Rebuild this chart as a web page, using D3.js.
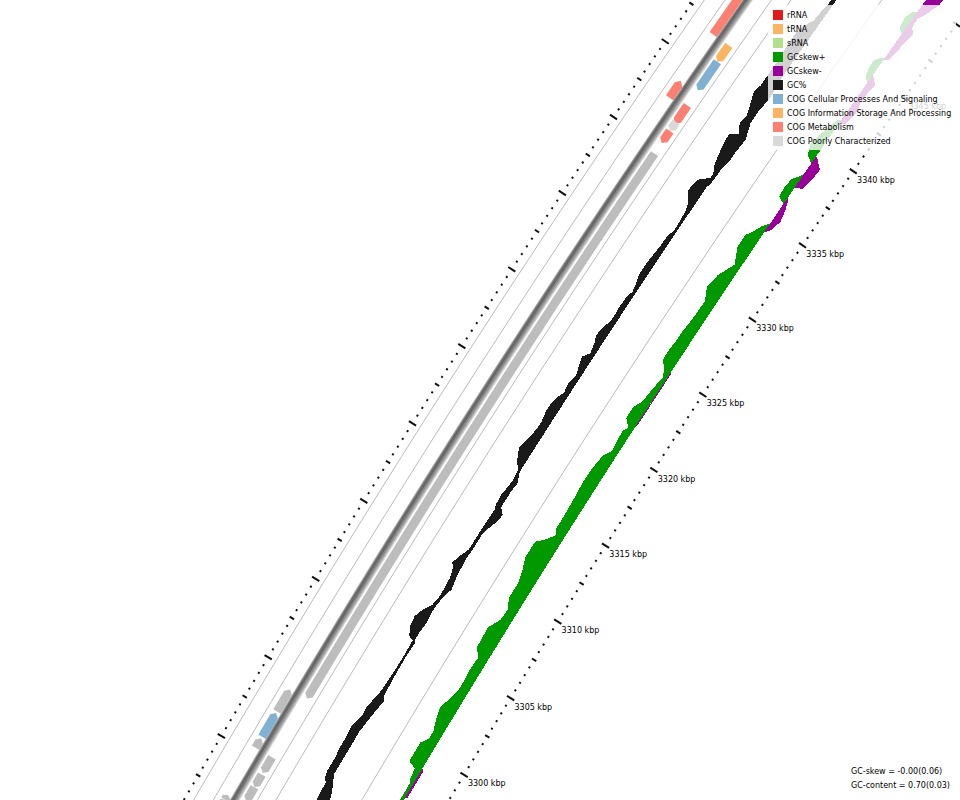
<!DOCTYPE html>
<html>
<head>
<meta charset="utf-8">
<script src="https://cdnjs.cloudflare.com/ajax/libs/d3/7.8.5/d3.min.js"></script>
<style>
html,body{margin:0;padding:0;background:#fff;}
svg{display:block;}
text{font-family:"DejaVu Sans",sans-serif;}
</style>
</head>
<body>
<div id="chart"></div>
<script>
// ---------- data ----------
const labelKbp = [3300,3305,3310,3315,3320,3325,3330,3335,3340,3345];
const legendNames = ["rRNA","tRNA","sRNA","GCskew+","GCskew-","GC%","COG Cellular Processes And Signaling","COG Information Storage And Processing","COG Metabolism","COG Poorly Characterized"];
const legendColors = ["#e31a1c","#fdb462","#b2df8a","#009900","#990099","#1a1a1a","#80b1d3","#fdb462","#fb8072","#d9d9d9"];
const footerLines = ["GC-skew = -0.00(0.06)","GC-content = 0.70(0.03)"];

// GC-skew above the mean (x100)
const plusKbp = [3296.9,3297,3298.1,3298.3,3298.9,3299.1,3300,3300.3,3300.7,3301.2,3301.9,3302.5,3303.2,3303.8,3304.4,3305.1,3306,3306.4,3307.7,3308.4,3309.1,3309.7,3310.7,3311.4,3312.1,3313.1,3313.5,3314,3314.3,3315.1,3316.4,3317.2,3318,3319.1,3319.6,3320.9,3321.2,3321.6,3322.3,3322.9,3323.7,3324.6,3325.1,3325.4,3325.9,3326.7,3327.3,3328.1,3329.4,3330.1,3331,3332,3332.9,3333.7,3334.1,3334.6,3335,3336.3,3336.5,3337,3337.7,3338.1,3338.3,3339,3339.1,3339.3,3339.9,3341,3341.8,3342,3344.5,3344.7,3345.2,3345.7,3346,3346.2,3347.8,3348,3348.6,3349.1,3349.3,3352];
const plusVal = [0,3,3,5,6,14,14,14,9,9,13,15,12,9,9,10,9,15,16,10,9,14,14,17,21,21,14,8,11,11,12,13,13,11,6,8,5,11.5,11.5,7,6,3.4,8,12.6,13,12,12,10.6,10,15.7,13.5,6,13,13,9,5,0,0,7,8,7,2,0,0,2,7,11,7,3,0,0,4.5,6.7,7,3.6,0,0,5,6.5,4,0,0];

// GC-skew below the mean (x100)
const minusKbp = [3297.2,3297.3,3299,3299.1,3321.5,3321.6,3325,3325.1,3334.4,3334.7,3335.4,3336,3336.5,3336.7,3337.4,3337.6,3338.3,3339,3339.4,3339.5,3341.6,3341.9,3342.7,3343.6,3344.6,3344.9,3345,3346,3346.2,3346.5,3347.5,3348.1,3348.4,3348.5,3349,3349.5,3350.3,3350.6,3351,3353];
const minusVal = [0,2,2,0,0,1,1,0,0,4,7,5,2.5,0,0,7,9,10,3,0,0,5,7.5,5,7,3,0,0,4,5,7,9,5,4,4,8,12.6,13,12,10];

// GC content above and below the mean (percentage points)
const gcKbp = [3293,3294.3,3295.1,3295.7,3295.9,3296.3,3297.1,3297.8,3298.4,3299.1,3299.9,3300.5,3301.2,3301.5,3302.5,3303.8,3304.9,3305,3305.5,3306.1,3306.7,3307.1,3307.8,3308.4,3308.9,3309.4,3309.7,3310.2,3310.5,3310.8,3311.8,3312.1,3313,3313.4,3313.7,3314.3,3314.7,3315.3,3315.9,3316.4,3317,3317.7,3318.4,3318.9,3319.5,3320.1,3320.5,3320.9,3321.5,3322.1,3322.6,3323.1,3323.5,3324.1,3324.5,3325.1,3325.6,3326.1,3326.4,3327.3,3327.6,3328.2,3328.6,3329.2,3330.1,3330.6,3331.1,3331.8,3332.4,3333,3333.4,3334,3334.7,3334.9,3335.2,3335.5,3336,3336.6,3337.2,3337.8,3338.1,3338.6,3339,3339.2,3339.8,3340.5,3341,3341.8,3342.8,3343.7,3344.5,3345,3345.6,3345.9,3346.7,3347.2,3348,3352];
const gcAbove = [1,1,2.5,2.5,5.6,7,7,8,8,9,5.3,6,3.4,2.5,1.5,1,1.5,6.4,10.4,11.8,8,3.4,1.5,2,2.5,4.7,8,6,3.4,1.5,1.5,1.5,1,1,2.5,3,2.2,1,2,8,12.6,10,8,8,9.8,9.5,8,5,6.4,4.5,7,9.4,4.5,6.4,9,8,5,5,5.6,5,3,5,7,7,6,5,5,2.5,3,4,6,12.6,11,8.4,2,2,6,8,9.8,10.6,2.8,8,7.5,6.7,10,14,12,12,12,13,13,11,6,6,4,4,4,4];
const gcBelow = [9,9,8.6,5,3.6,0,0,0,0,0,1.7,3,5,2.5,1.5,1,1.5,0,0,1,0,0,1.5,4.5,3,1.7,1.7,1,1,1.5,1.5,2,7.5,8,3,3,3,4,0,0,0,0,0,0,0,0,0,0,0,0,0,0,0,0,0,0,0,0,0,0,0,0,0,0,0,0,0,0,0,0,0,0,0,1,1.7,1.7,2,4,4,4.7,5,2,0,0,0,1.4,1.4,0,0,0,0,0,0,0,0,0,0,0];

// gene features
const geneStart  = [3341.8,3337.6,3297.7,3296.1,3295.4,3292.1,3291.9, 3299.15,3294.4,3293.5,3292.6,3340.7,3338.8,3336.6,3336.1,3335.3];
const geneEnd    = [3347,  3338.7,3299.1,3297.6,3296.0,3292.4,3292.1, 3334.6, 3295.4,3294.3,3293.5,3341.8,3340.7,3337.8,3336.7,3336.1];
const geneStrand = [1,1,1,1,1,1,1, -1,-1,-1,-1,-1,-1,-1,-1,-1];
const geneClass  = ["M","M","none","C","none","none","none","none","none","none","none","I","C","M","P","M"];
const classColor = {M:"#fb8072",C:"#80b1d3",I:"#fdb462",P:"#d9d9d9",none:"#bdbdbd"};

// ---------- layout ----------
const W = 960, H = 800;
const genomeKbp = 3947;
const cx = 10135, cy = 6583, R0 = 11280;
const angle = d3.scaleLinear().domain([0, genomeKbp]).range([0, 2*Math.PI]);
const offset = o => R0 + o;                 // radial distance from the inner tick ring
const TRACK = {inner:1, skew:40, rule1:76, gc:113, rule2:150, rule3:166, rev:175, spine:185.5, fwd:194, rule4:204, rule5:221, ticks:229.5};
const skewR = d3.scaleLinear().domain([0,1]).range([0,1.08]);
const gcR = d3.scaleLinear().domain([0,1]).range([0,1.08]);

const svg = d3.select("#chart").append("svg").attr("width",W).attr("height",H);
const g = svg.append("g").attr("transform",`translate(${cx},${cy})`);

const arcLine = d3.lineRadial().angle(d=>angle(d[0])).radius(d=>d[1]);
const span = d3.range(3285,3362,1);

// rules
[TRACK.rule1,TRACK.rule2,TRACK.rule3,TRACK.rule4,TRACK.rule5].forEach(t=>{
  g.append("path").attr("d",arcLine(span.map(k=>[k,offset(t)])))
   .attr("fill","none").attr("stroke","#a8a8a8").attr("stroke-width",0.8);
});
// spine: shaded ring, darkest towards its outer side
[[8.6,"#d0d0d0",0],[7,"#a8a8a8",0.5],[5,"#888888",1],[2.6,"#686868",1.5]].forEach(([w,c,d])=>{
  g.append("path").attr("d",arcLine(span.map(k=>[k,offset(TRACK.spine+d)])))
   .attr("fill","none").attr("stroke",c).attr("stroke-width",w);
});

// gene arrows
const halfW = 4.4;
function arrowPts(s,e,strand,r){
  const head = Math.min(0.22,(e-s)*0.45);
  const inner = r-halfW, outer = r+halfW;
  const steps = d3.range(s,e,1);
  if(strand>0){
    const a = [s].concat(steps.slice(1)).concat([e-head]);
    return a.map(k=>[k,outer]).concat([[e,r]]).concat(a.slice().reverse().map(k=>[k,inner]));
  }
  const a = [s+head].concat(steps.slice(1)).concat([e]);
  return [[s,r]].concat(a.map(k=>[k,outer])).concat(a.slice().reverse().map(k=>[k,inner]));
}
geneStart.forEach((s,i)=>{
  const r = offset(geneStrand[i]>0?TRACK.fwd:TRACK.rev);
  g.append("path").attr("d",arcLine(arrowPts(s,geneEnd[i],geneStrand[i],r))+"Z")
   .attr("fill",classColor[geneClass[i]]);
});

// GC content
const gcRows = gcKbp.map((k,i)=>({k,a:gcAbove[i],b:gcBelow[i]}));
g.append("path").attr("d",d3.areaRadial().angle(d=>angle(d.k))
    .innerRadius(d=>offset(TRACK.gc)-gcR(d.b)).outerRadius(d=>offset(TRACK.gc)+gcR(d.a))(gcRows))
  .attr("fill","#1a1a1a").attr("shape-rendering","crispEdges");

// GC skew
const plusRows = plusKbp.map((k,i)=>({k,v:plusVal[i]}));
const minusRows = minusKbp.map((k,i)=>({k,v:minusVal[i]}));
g.append("path").attr("d",d3.areaRadial().angle(d=>angle(d.k))
    .innerRadius(offset(TRACK.skew)).outerRadius(d=>offset(TRACK.skew)+skewR(d.v))(plusRows))
  .attr("fill","#009900").attr("shape-rendering","crispEdges");
g.append("path").attr("d",d3.areaRadial().angle(d=>angle(d.k))
    .outerRadius(offset(TRACK.skew)).innerRadius(d=>offset(TRACK.skew)-skewR(d.v))(minusRows))
  .attr("fill","#990099").attr("shape-rendering","crispEdges");

// ticks on both rings
function tickSeg(k,base,len){
  return arcLine([[k,offset(base)-len/2],[k,offset(base)+len/2]]);
}
[TRACK.inner,TRACK.ticks].forEach(base=>{
  d3.range(3285,3362,0.5).forEach(k=>{
    const major = Math.abs(k%5)<1e-6, mid = Math.abs(k%2.5)<1e-6;
    g.append("path").attr("d",tickSeg(k,base,major?8.5:mid?5:2))
      .attr("stroke","#111").attr("stroke-width",2).attr("fill","none");
  });
});

// tick labels
labelKbp.forEach(k=>{
  const a = angle(k);
  const x = cx + R0*Math.sin(a), y = cy - R0*Math.cos(a);
  svg.append("text").attr("x",x+3).attr("y",y+11).attr("font-size",8).attr("fill","#000").text(k+" kbp");
});

// legend panel
svg.append("rect").attr("x",768).attr("y",5).attr("width",188).attr("height",145).attr("fill","#fff").attr("opacity",0.8);
const legendY = d3.scalePoint().domain(legendNames).range([14.5,140.5]);
legendNames.forEach((n,i)=>{
  svg.append("rect").attr("x",773).attr("y",legendY(n)-4.5).attr("width",10).attr("height",10).attr("fill",legendColors[i]);
  svg.append("text").attr("x",787).attr("y",legendY(n)+3).attr("font-size",8).attr("fill","#000").text(n);
});

// footer
footerLines.forEach((t,i)=>{
  svg.append("text").attr("x",851).attr("y",774+i*14).attr("font-size",8).attr("fill","#000").text(t);
});
</script>
</body>
</html>
